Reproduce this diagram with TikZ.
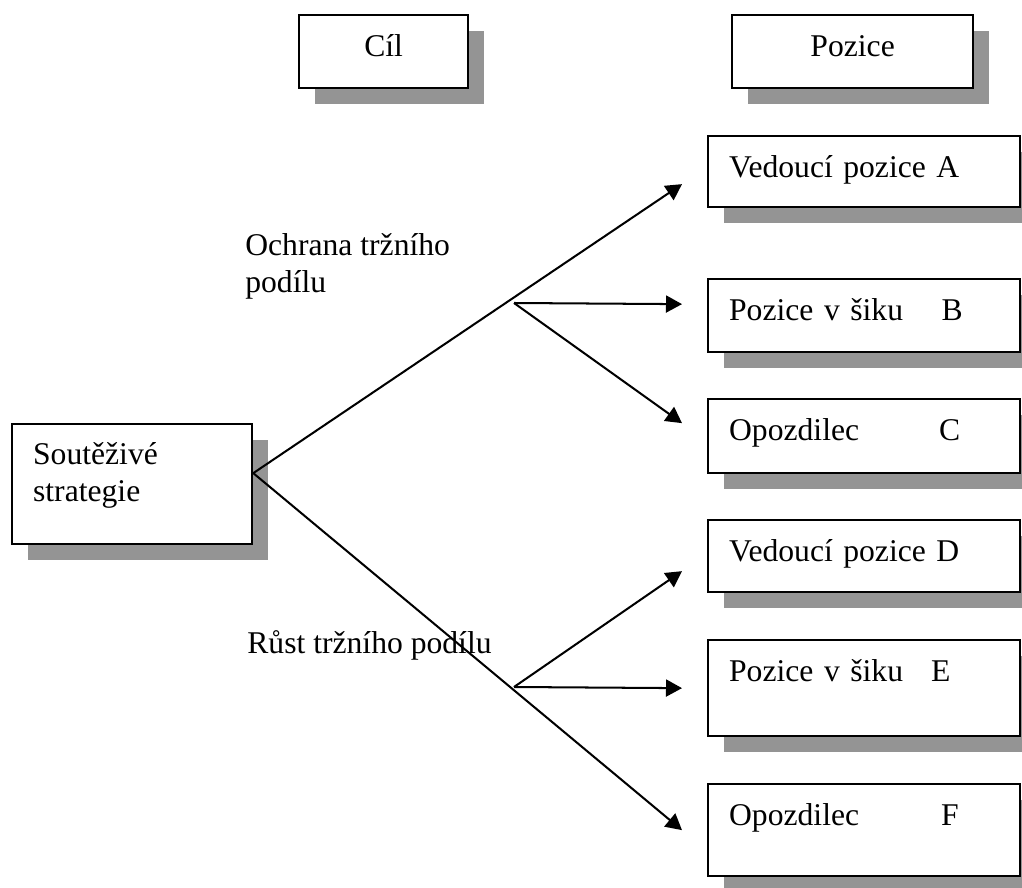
\documentclass[tikz,border=0pt]{standalone}
\usepackage{fontspec}
\setmainfont{Liberation Serif}
\usetikzlibrary{arrows.meta, shadows}
\tikzstyle{shadowbox} = [rectangle, draw=black, line width=1.3pt, fill=white, inner xsep=0.42cm, inner ysep=0pt, text height=0.82cm, anchor=north west, drop shadow={shadow xshift=0.32cm, shadow yshift=-0.32cm, fill=black!42, opacity=1}]
\tikzstyle{headbox} = [shadowbox, align=center]
\tikzstyle{posbox} = [shadowbox, text width=5.4cm, align=left]
\tikzstyle{lbl} = [align=left, anchor=base west, inner sep=0pt]
\tikzstyle{arrow} = [line width=1.15pt, -{Triangle[length=0.32cm, width=0.34cm]}]

\begin{document}
\begin{tikzpicture}[font=\fontsize{18}{21.5}\selectfont]
\useasboundingbox (0,0) rectangle (20.44,-17.76);
\node (cil) [headbox, text width=2.54cm, text depth=0.64cm] at (5.96,-0.28) {Cíl};
\node (pozice) [headbox, text width=3.98cm, text depth=0.64cm] at (14.62,-0.28) {Pozice};
\node (strat) [shadowbox, text width=3.96cm, align=left, text height=0.8cm, text depth=1.6cm] at (0.22,-8.46) {Soutěživé\\strategie};
\node (vedA) [posbox, text depth=0.6cm] at (14.14,-2.7) {Vedoucí pozice A};
\node (sikB) [posbox, text depth=0.64cm] at (14.14,-5.56) {\makebox[4.25cm][l]{Pozice v šiku}B};
\node (opozC) [posbox, text depth=0.66cm] at (14.14,-7.96) {\makebox[4.2cm][l]{Opozdilec}C};
\node (vedD) [posbox, text depth=0.62cm] at (14.14,-10.38) {Vedoucí pozice D};
\node (sikE) [posbox, text depth=1.1cm] at (14.14,-12.78) {\makebox[4.04cm][l]{Pozice v šiku}E};
\node (opozF) [posbox, text depth=1.02cm] at (14.14,-15.66) {\makebox[4.24cm][l]{Opozdilec}F};
\node (ochrana) [lbl] at (4.9,-5.86) {Ochrana tržního\\podílu};
\node (rust) [lbl] at (4.94,-13.06) {Růst tržního podílu};

\coordinate (src) at ([yshift=0.22cm]strat.east);
\coordinate (fork1) at (10.28,-6.06);
\coordinate (fork2) at (10.28,-13.74);
\coordinate (tipA) at ([xshift=-0.5cm, yshift=-0.25cm]vedA.west);
\coordinate (tipB) at ([xshift=-0.5cm, yshift=0.23cm]sikB.west);
\coordinate (tipC) at ([xshift=-0.5cm, yshift=0.26cm]opozC.west);
\coordinate (tipD) at ([xshift=-0.5cm, yshift=-0.3cm]vedD.west);
\coordinate (tipE) at ([xshift=-0.5cm]sikE.west);
\coordinate (tipF) at ([xshift=-0.5cm]opozF.west);

\draw [arrow] (src) -- (tipA);
\draw [arrow] (fork1) -- (tipB);
\draw [arrow] (fork1) -- (tipC);
\draw [arrow] (src) -- (tipF);
\draw [arrow] (fork2) -- (tipD);
\draw [arrow] (fork2) -- (tipE);
\end{tikzpicture}
\end{document}
